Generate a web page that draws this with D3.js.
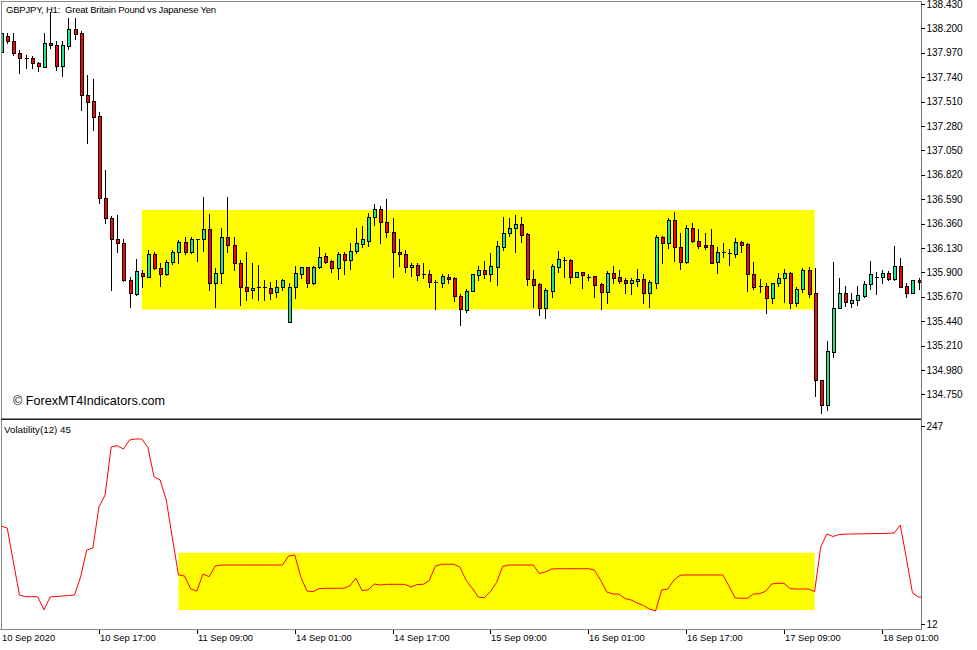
<!DOCTYPE html>
<html><head><meta charset="utf-8">
<script src="https://cdn.jsdelivr.net/npm/d3@7/dist/d3.min.js"></script>
<style>
body{margin:0;background:#fff}
svg{display:block}
text{font-family:"Liberation Sans",Arial,sans-serif;fill:#000}
</style>
</head><body>
<svg id="c" width="977" height="650"></svg>
<script>
// ---------- DATA ----------
const open = [137.978,138.128,138.081,137.968,137.923,137.921,137.874,137.836,138.062,138.044,
137.846,138.034,138.194,138.157,137.572,137.516,137.374,136.602,136.413,136.215,
136.178,135.829,135.697,135.895,135.857,136.074,135.942,135.885,135.998,136.093,
136.187,136.093,136.215,136.215,136.309,135.801,135.895,136.234,136.159,135.989,
135.763,135.735,135.753,135.763,135.753,135.716,135.763,135.433,135.763,135.885,
135.951,135.801,135.951,136.055,136.008,135.942,136.074,136.017,136.102,136.168,
136.196,136.422,136.498,136.375,136.281,136.093,136.074,135.951,135.970,135.885,
135.885,135.810,135.801,135.857,135.848,135.678,135.546,135.725,135.876,135.923,
135.885,135.951,136.140,136.272,136.319,136.357,136.262,135.838,135.791,135.565,
135.725,135.951,136.017,136.017,135.857,135.904,135.857,135.867,135.791,135.716,
135.895,135.857,135.829,135.801,135.819,135.838,135.706,135.801,136.234,136.178,
136.394,136.140,135.998,136.319,136.196,136.159,136.159,135.998,136.093,136.083,
136.074,136.187,136.168,135.885,135.772,135.772,135.659,135.801,135.848,135.895,
135.612,135.744,135.923,135.706,134.886,134.651,135.150,135.565,135.706,135.612,
135.640,135.678,135.791,135.857,135.857,135.895,135.838,135.961,135.772,135.706,
135.829];
const high = [138.176,138.157,138.157,137.996,137.949,137.940,137.883,138.157,138.355,138.081,
138.081,138.298,138.298,138.176,137.761,137.723,137.412,136.866,136.432,136.441,
136.215,135.857,136.027,135.923,136.112,136.093,135.989,136.017,136.112,136.206,
136.234,136.234,136.215,136.611,136.451,135.942,136.319,136.611,136.234,136.017,
136.093,135.989,135.970,135.829,135.810,135.829,135.838,135.801,135.961,135.951,
135.951,135.961,136.140,136.083,136.017,136.093,136.093,136.178,136.319,136.338,
136.460,136.545,136.526,136.592,136.413,136.215,136.112,135.989,135.989,135.989,
135.923,135.829,135.885,135.885,135.857,135.697,135.744,135.885,135.961,136.008,
136.083,136.196,136.422,136.413,136.441,136.422,136.272,135.923,135.801,135.753,
135.980,136.102,136.046,136.027,135.904,135.904,135.885,135.867,135.801,135.914,
135.961,135.923,135.848,135.848,135.932,135.885,135.829,136.253,136.244,136.413,
136.470,136.272,136.347,136.366,136.309,136.272,136.309,136.140,136.178,136.121,
136.225,136.196,136.178,135.998,135.838,135.801,135.801,135.895,135.932,135.904,
135.763,135.942,135.951,135.942,134.886,135.254,135.998,135.848,135.772,135.706,
135.772,135.819,136.008,135.904,135.923,135.914,136.149,136.036,135.801,135.829,
135.848];
const low = [137.968,138.062,137.949,137.780,137.827,137.827,137.799,137.836,138.015,137.808,
137.751,138.006,138.100,137.431,137.120,137.243,136.554,136.366,135.735,136.093,
135.819,135.574,135.688,135.763,135.857,135.932,135.772,135.876,135.980,135.989,
136.074,136.083,136.008,136.102,135.735,135.574,135.801,136.093,135.923,135.593,
135.640,135.659,135.640,135.640,135.650,135.669,135.735,135.433,135.659,135.848,
135.763,135.791,135.942,135.989,135.904,135.838,135.885,135.932,136.083,136.140,
136.149,136.347,136.178,136.234,135.857,135.961,135.904,135.867,135.829,135.848,
135.763,135.556,135.763,135.801,135.631,135.405,135.527,135.725,135.829,135.848,
135.819,135.782,136.112,136.244,136.093,136.187,135.782,135.574,135.499,135.471,
135.669,135.904,135.857,135.801,135.857,135.753,135.829,135.669,135.556,135.612,
135.801,135.801,135.706,135.697,135.772,135.612,135.574,135.753,135.989,136.130,
136.008,135.932,135.989,136.187,136.130,136.121,135.989,135.895,136.046,135.970,
136.046,136.093,135.725,135.744,135.716,135.518,135.612,135.772,135.622,135.565,
135.584,135.716,135.669,134.736,134.576,134.604,135.103,135.565,135.584,135.574,
135.593,135.669,135.744,135.697,135.801,135.829,135.829,135.763,135.669,135.706,
135.744];
const close = [138.157,138.081,137.968,137.921,137.921,137.874,137.846,138.062,138.044,137.846,
138.044,138.194,138.147,137.572,137.506,137.365,136.602,136.413,136.215,136.178,
135.829,135.706,135.914,135.867,136.074,135.942,135.885,135.998,136.093,136.187,
136.093,136.215,136.210,136.309,135.801,135.895,136.234,136.159,135.989,135.763,
135.725,135.753,135.763,135.753,135.706,135.763,135.829,135.763,135.895,135.951,
135.801,135.951,136.046,135.998,135.942,136.074,136.017,136.102,136.178,136.215,
136.422,136.498,136.375,136.281,136.093,136.074,135.951,135.970,135.876,135.884,
135.810,135.809,135.867,135.838,135.678,135.556,135.725,135.885,135.923,135.885,
135.961,136.149,136.272,136.319,136.357,136.253,135.838,135.782,135.565,135.735,
135.961,136.027,136.016,135.857,135.904,135.876,135.857,135.782,135.716,135.895,
135.848,135.819,135.801,135.829,135.838,135.706,135.810,136.234,136.178,136.394,
136.140,135.998,136.319,136.196,136.149,136.140,135.989,136.093,136.092,136.074,
136.187,136.159,135.885,135.763,135.771,135.659,135.801,135.848,135.895,135.612,
135.744,135.923,135.697,134.886,134.651,135.160,135.565,135.706,135.622,135.640,
135.688,135.791,135.885,135.856,135.895,135.838,135.961,135.763,135.706,135.829,
135.810];
const volatility = [128.3,125.9,86.0,46.4,44.4,44.4,44.4,28.6,44.0,44.6,
45.2,45.8,46.4,67.8,99.8,102.2,150.9,165.1,222.1,223.6,
219.7,230.4,231.6,231.6,221.5,186.8,182.9,159.2,114.1,70.2,
69.0,53.5,51.2,71.3,68.1,80.8,82.0,82.0,82.0,82.0,
82.0,82.0,82.0,82.0,82.0,82.0,82.0,92.7,93.9,67.8,
51.2,50.3,54.1,54.4,54.4,54.4,54.4,57.1,66.6,51.8,
52.4,59.5,58.3,59.1,59.1,59.1,59.1,55.9,58.9,59.1,
63.6,80.8,82.9,82.9,82.9,79.6,64.2,54.7,44.0,43.2,
50.6,61.3,80.2,82.0,82.0,82.0,82.0,82.0,71.9,73.7,
77.3,77.6,77.6,77.6,77.6,77.6,77.6,76.1,64.2,50.0,
47.6,47.6,42.3,40.5,36.9,34.0,29.8,27.4,52.4,53.5,
64.2,69.8,70.2,70.2,70.2,70.2,70.2,70.2,70.2,57.1,
42.9,42.5,42.5,47.6,48.0,50.9,59.5,60.3,60.3,54.1,
53.5,53.5,53.5,50.6,103.4,118.8,115.8,118.2,118.6,118.8,
119.0,119.0,119.2,119.4,119.4,119.6,120.0,129.5,90.3,48.8,
44.0,43.7];
const priceTicks = [138.430,138.200,137.970,137.740,137.510,137.280,137.050,136.820,136.590,136.360,136.130,135.900,135.670,135.440,135.210,134.980,134.750];
const volTicks = [247, 12];
const timeLabels = ["10 Sep 2020","10 Sep 17:00","11 Sep 09:00","14 Sep 01:00","14 Sep 17:00","15 Sep 09:00","16 Sep 01:00","16 Sep 17:00","17 Sep 09:00","18 Sep 01:00"];
const timeLabelBars = [0,16,32,48,64,80,96,112,128,144];
const priceZone = [23, 133, 135.550, 136.488];   // fromBar, toBar, low, high
const volZone = [29, 133, 28.6, 96.6];
const title = "GBPJPY, H1:  Great Britain Pound vs Japanese Yen";
const volTitle = "Volatility(12) 45";
const watermark = "\u00A9 ForexMT4Indicators.com";

// ---------- LAYOUT ----------
const svg = d3.select("#c");
const L = 1, R = 921, mainT = 1, mainB = 418, volT = 420, volB = 630;
const n = open.length;
const x = d3.scaleLinear().domain([0, n - 1]).range([1.1, 918.6]);
const y = d3.scaleLinear().domain([134.75, 138.43]).range([394.4, 4]);
const yv = d3.scaleLinear().domain([12, 247]).range([624, 426]);

svg.append("rect").attr("width", 977).attr("height", 650).attr("fill", "#fff");

const defs = svg.append("defs");
defs.append("clipPath").attr("id", "cm").append("rect")
  .attr("x", L + 1).attr("y", mainT + 1).attr("width", R - L - 1).attr("height", mainB - mainT - 1);
defs.append("clipPath").attr("id", "cv").append("rect")
  .attr("x", L + 1).attr("y", volT + 1).attr("width", R - L - 1).attr("height", volB - volT - 1);

// zones
const gm = svg.append("g").attr("clip-path", "url(#cm)");
gm.append("rect")
  .attr("x", x(priceZone[0])).attr("width", x(priceZone[1]) - x(priceZone[0]))
  .attr("y", y(priceZone[3])).attr("height", y(priceZone[2]) - y(priceZone[3]))
  .attr("fill", "#ffff00");

// candles
const bars = d3.range(n).map(i => ({i, o: open[i], h: high[i], l: low[i], c: close[i]}));
const cx = d => Math.round(x(d.i));
gm.selectAll("line.wick").data(bars).join("line").attr("class", "wick")
  .attr("x1", d => cx(d) + 0.5).attr("x2", d => cx(d) + 0.5)
  .attr("y1", d => Math.round(y(d.h))).attr("y2", d => Math.round(y(d.l)) + 1)
  .attr("stroke", "#000").attr("stroke-width", 1).attr("shape-rendering", "crispEdges");
bars.forEach(d => {
  const top = Math.round(y(Math.max(d.o, d.c)));
  const bot = Math.round(y(Math.min(d.o, d.c)));
  if (bot - top < 2) {
    gm.append("line").attr("x1", cx(d) - 1).attr("x2", cx(d) + 3)
      .attr("y1", top + 0.5).attr("y2", top + 0.5)
      .attr("stroke", "#000").attr("shape-rendering", "crispEdges");
  } else {
    gm.append("rect").attr("x", cx(d) - 0.5).attr("width", 3)
      .attr("y", top + 0.5).attr("height", bot - top)
      .attr("fill", d.c >= d.o ? "#1ee68c" : "#ff0000")
      .attr("stroke", "#000").attr("stroke-width", 1).attr("shape-rendering", "crispEdges");
  }
});

// indicator
const gv = svg.append("g").attr("clip-path", "url(#cv)");
gv.append("rect")
  .attr("x", x(volZone[0])).attr("width", x(volZone[1]) - x(volZone[0]))
  .attr("y", yv(volZone[3])).attr("height", yv(volZone[2]) - yv(volZone[3]))
  .attr("fill", "#ffff00");
gv.append("path").datum(volatility)
  .attr("d", d3.line().x((v, i) => x(i)).y(v => yv(v)))
  .attr("fill", "none").attr("stroke", "#ff0000").attr("stroke-width", 1);

// frames
const frame = svg.append("g").attr("shape-rendering", "crispEdges");
frame.append("line").attr("x1", L).attr("x2", R).attr("y1", 1.5).attr("y2", 1.5).attr("stroke", "#888");
frame.append("line").attr("x1", 1.5).attr("x2", 1.5).attr("y1", 1).attr("y2", volB).attr("stroke", "#888");
frame.append("line").attr("x1", R + 0.5).attr("x2", R + 0.5).attr("y1", 1).attr("y2", volB).attr("stroke", "#777");
frame.append("line").attr("x1", L).attr("x2", R).attr("y1", mainB + 0.5).attr("y2", mainB + 0.5).attr("stroke", "#888");
frame.append("line").attr("x1", L).attr("x2", R).attr("y1", volT - 0.5).attr("y2", volT - 0.5).attr("stroke", "#222");
frame.append("line").attr("x1", 0).attr("x2", R).attr("y1", volB - 0.5).attr("y2", volB - 0.5).attr("stroke", "#888");

// price axis
const pa = svg.append("g");
pa.selectAll("line").data(priceTicks).join("line")
  .attr("x1", R).attr("x2", R + 4)
  .attr("y1", d => Math.round(y(d)) + 0.5).attr("y2", d => Math.round(y(d)) + 0.5)
  .attr("stroke", "#000").attr("shape-rendering", "crispEdges");
pa.selectAll("text").data(priceTicks).join("text")
  .attr("x", R + 5.5).attr("y", d => y(d) + 3.6)
  .attr("font-size", "10px").text(d => d.toFixed(3));

// volatility axis
const va = svg.append("g");
va.selectAll("line").data(volTicks).join("line")
  .attr("x1", R).attr("x2", R + 4)
  .attr("y1", d => Math.round(yv(d)) + 0.5).attr("y2", d => Math.round(yv(d)) + 0.5)
  .attr("stroke", "#000").attr("shape-rendering", "crispEdges");
va.selectAll("text").data(volTicks).join("text")
  .attr("x", R + 5.5).attr("y", d => yv(d) + 3.6)
  .attr("font-size", "10px").text(d => d);

// time axis
const ta = svg.append("g");
ta.selectAll("line").data(timeLabelBars.slice(1)).join("line")
  .attr("x1", d => Math.round(x(d)) + 0.5).attr("x2", d => Math.round(x(d)) + 0.5)
  .attr("y1", volB).attr("y2", volB + 4)
  .attr("stroke", "#000").attr("shape-rendering", "crispEdges");
ta.selectAll("text").data(timeLabels).join("text")
  .attr("x", (d, i) => i === 0 ? 2 : Math.round(x(timeLabelBars[i])) + 1)
  .attr("y", 641).attr("font-size", "9.4px").text(d => d);

// texts
svg.append("text").attr("x", 6).attr("y", 12.5).attr("font-size", "9.5px")
  .attr("letter-spacing", "-0.2").attr("xml:space", "preserve").style("white-space", "pre").text(title);
svg.append("text").attr("x", 4).attr("y", 433).attr("font-size", "9.8px").text(volTitle);
svg.append("text").attr("x", 13).attr("y", 404.5).attr("font-size", "12.6px").attr("fill", "#111").text(watermark);
</script>
</body></html>
